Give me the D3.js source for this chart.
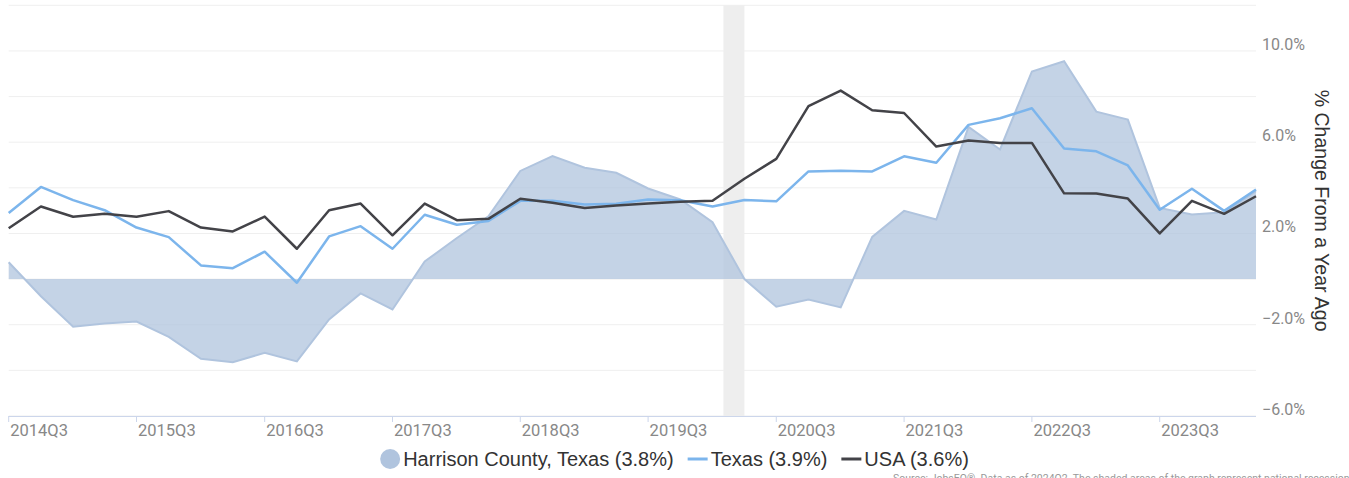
<!DOCTYPE html>
<html>
<head>
<meta charset="utf-8">
<script src="https://cdn.jsdelivr.net/npm/d3@7"></script>
<style>
  body { margin: 0; background: #fff; }
  svg { font-family: Roboto, sans-serif; display: block; }
</style>
</head>
<body>
<div id="chart"></div>
<script>
const fig_width = 1349
const fig_height = 478

// Quarterly % change from a year ago
const quarters = [
  '2014Q3','2014Q4','2015Q1','2015Q2','2015Q3','2015Q4','2016Q1','2016Q2',
  '2016Q3','2016Q4','2017Q1','2017Q2','2017Q3','2017Q4','2018Q1','2018Q2',
  '2018Q3','2018Q4','2019Q1','2019Q2','2019Q3','2019Q4','2020Q1','2020Q2',
  '2020Q3','2020Q4','2021Q1','2021Q2','2021Q3','2021Q4','2022Q1','2022Q2',
  '2022Q3','2022Q4','2023Q1','2023Q2','2023Q3','2023Q4','2024Q1','2024Q2'
]
const harrison = [0.74,-0.75,-2.09,-1.95,-1.86,-2.53,-3.49,-3.64,-3.23,-3.61,
  -1.77,-0.63,-1.33,0.77,1.8,2.75,4.74,5.39,4.88,4.66,
  3.97,3.49,2.49,0.0,-1.21,-0.89,-1.24,1.85,2.99,2.61,
  6.67,5.68,9.10,9.55,7.34,6.99,3.12,2.83,2.93,3.85]
const texas = [2.9,4.04,3.46,3.02,2.26,1.84,0.60,0.48,1.20,-0.16,
  1.87,2.32,1.33,2.82,2.38,2.55,3.43,3.43,3.27,3.30,
  3.49,3.46,3.18,3.47,3.41,4.72,4.75,4.72,5.38,5.10,
  6.76,7.05,7.49,5.72,5.60,4.98,3.04,3.96,2.99,3.93]
const usa = [2.23,3.18,2.73,2.86,2.73,2.98,2.26,2.09,2.74,1.33,
  3.02,3.31,1.92,3.31,2.58,2.64,3.52,3.35,3.12,3.23,
  3.31,3.39,3.43,4.40,5.27,7.58,8.26,7.40,7.28,5.81,
  6.07,5.97,5.97,3.76,3.75,3.53,2.0,3.43,2.86,3.63]

const tick_labels = ['2014Q3','2015Q3','2016Q3','2017Q3','2018Q3','2019Q3','2020Q3','2021Q3','2022Q3','2023Q3']
const y_ticks = [-6,-4,-2,0,2,4,6,8,10,12]
const y_labels = [-6,-2,2,6,10]
const recession = [new Date(2020,1,1), new Date(2020,3,1)]

const legend_items = [
  {name: 'Harrison County, Texas (3.8%)', kind: 'area'},
  {name: 'Texas (3.9%)', kind: 'texas'},
  {name: 'USA (3.6%)', kind: 'usa'}
]

const area_fill = 'rgba(176,196,222,0.75)'
const area_line = '#b0c4de'
const texas_col = '#7cb5ec'
const usa_col = '#434348'
const sans = '"Liberation Sans", Arial, sans-serif'

// quarter label -> date of first day of that quarter
const qdate = q => new Date(+q.slice(0,4), (+q.slice(5) - 1) * 3, 1)

const plot = {left: 8.7, right: 1256, top: 5.3, bottom: 416}

let x = d3.scaleTime()
  .domain([qdate(quarters[0]), qdate(quarters[quarters.length-1])])
  .range([plot.left, plot.right])

let y = d3.scaleLinear()
  .domain([-6, 12])
  .range([plot.bottom, plot.top])

let svg = d3.select('#chart')
  .append('svg')
  .attr('width', fig_width)
  .attr('height', fig_height)

// gridlines
svg.append('g')
  .selectAll('line')
  .data(y_ticks)
  .join('line')
  .attr('x1', plot.left)
  .attr('x2', plot.right)
  .attr('y1', d => y(d))
  .attr('y2', d => y(d))
  .attr('stroke', '#efefef')
  .attr('stroke-width', 1)

// recession band
svg.append('rect')
  .attr('x', x(recession[0]))
  .attr('width', x(recession[1]) - x(recession[0]))
  .attr('y', plot.top)
  .attr('height', plot.bottom - plot.top)
  .attr('fill', '#eeeeee')

// Harrison County area against the zero threshold
let areaGen = d3.area()
  .x((d, i) => x(qdate(quarters[i])))
  .y0(y(0))
  .y1(d => y(d))

let lineGen = d3.line()
  .x((d, i) => x(qdate(quarters[i])))
  .y(d => y(d))

svg.append('path')
  .datum(harrison)
  .attr('d', areaGen)
  .attr('fill', area_fill)

svg.append('path')
  .datum(harrison)
  .attr('d', lineGen)
  .attr('fill', 'none')
  .attr('stroke', area_line)
  .attr('stroke-width', 2)

svg.append('path')
  .datum(texas)
  .attr('d', lineGen)
  .attr('fill', 'none')
  .attr('stroke', texas_col)
  .attr('stroke-width', 2.5)
  .attr('stroke-linejoin', 'round')

svg.append('path')
  .datum(usa)
  .attr('d', lineGen)
  .attr('fill', 'none')
  .attr('stroke', usa_col)
  .attr('stroke-width', 2.5)
  .attr('stroke-linejoin', 'round')

// x axis
svg.append('line')
  .attr('x1', plot.left)
  .attr('x2', plot.right)
  .attr('y1', plot.bottom + 0.5)
  .attr('y2', plot.bottom + 0.5)
  .attr('stroke', '#ccd6eb')

let xt = svg.append('g')
  .selectAll('g')
  .data(tick_labels)
  .join('g')
  .attr('transform', d => `translate(${x(qdate(d))},0)`)

xt.append('line')
  .attr('y1', plot.bottom)
  .attr('y2', plot.bottom + 6)
  .attr('stroke', '#ccd6eb')

xt.append('text')
  .attr('x', 1.5)
  .attr('y', 436)
  .attr('fill', '#888')
  .style('font-size', '16.5px')
  .text(d => d)

// y labels on the right
svg.append('g')
  .selectAll('text')
  .data(y_labels)
  .join('text')
  .attr('x', 1262)
  .attr('y', d => y(d) - 1)
  .attr('fill', '#888')
  .style('font-size', '16px')
  .text(d => d3.format('.1f')(d) + '%')

svg.append('text')
  .attr('transform', `translate(1315,${(plot.top + plot.bottom) / 2}) rotate(90)`)
  .attr('text-anchor', 'middle')
  .attr('fill', '#333')
  .style('font-family', sans)
  .style('font-size', '19.5px')
  .text('% Change From a Year Ago')

// legend, laid out from the text widths and centred on the page
let legend = svg.append('g')
let lx = 0
legend_items.forEach((item, i) => {
  let g = legend.append('g').attr('transform', `translate(${lx},0)`)
  if (item.kind === 'area') {
    g.append('circle').attr('cx', 10).attr('cy', 0).attr('r', 10).attr('fill', area_line)
  } else {
    g.append('line').attr('x1', 0).attr('x2', 20).attr('y1', 0).attr('y2', 0)
      .attr('stroke', item.kind === 'texas' ? texas_col : usa_col)
      .attr('stroke-width', 3)
  }
  let t = g.append('text')
    .attr('x', 23)
    .attr('y', 7)
    .attr('fill', '#333')
    .style('font-family', sans)
    .style('font-size', '20px')
    .text(item.name)
  lx += 23 + t.node().getComputedTextLength() + 14
})
lx -= 14
legend.attr('transform', `translate(${fig_width / 2 - lx / 2},459)`)

svg.append('text')
  .attr('x', 893)
  .attr('y', 482)
  .attr('fill', '#999')
  .style('font-size', '10.5px')
  .text('Source: JobsEQ®. Data as of 2024Q2. The shaded areas of the graph represent national recessions.')
</script>
</body>
</html>
